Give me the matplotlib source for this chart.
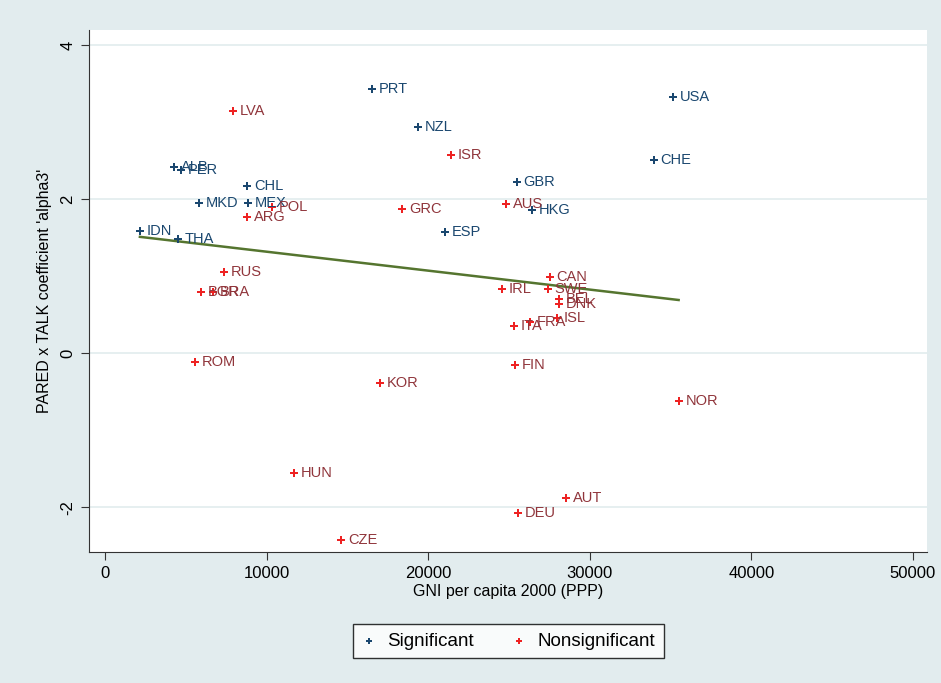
import numpy as np
import matplotlib.pyplot as plt

plt.rcParams['font.family'] = ['Liberation Sans', 'DejaVu Sans']

# significant countries
sig_names = ['PRT', 'USA', 'NZL', 'CHE', 'GBR', 'ALB', 'PER', 'CHL', 'MKD',
             'MEX', 'HKG', 'ESP', 'IDN', 'THA']
sig_gni = [16510, 35130, 19360, 33950, 25480, 4270, 4700, 8780, 5810,
           8840, 26400, 21030, 2160, 4510]
sig_alpha = [3.43, 3.32, 2.94, 2.51, 2.22, 2.42, 2.38, 2.17, 1.95,
             1.95, 1.86, 1.57, 1.58, 1.48]

# nonsignificant countries
non_names = ['LVA', 'ISR', 'POL', 'ARG', 'GRC', 'AUS', 'RUS', 'BGR', 'BRA',
             'CAN', 'IRL', 'SWE', 'BEL', 'DNK', 'ISL', 'FRA', 'ITA', 'ROM',
             'FIN', 'KOR', 'NOR', 'HUN', 'AUT', 'DEU', 'CZE']
non_gni = [7920, 21400, 10330, 8780, 18370, 24800, 7360, 5940, 6680,
           27520, 24550, 27400, 28080, 28080, 27950, 26280, 25290, 5570,
           25360, 17010, 35500, 11690, 28510, 25540, 14600]
non_alpha = [3.14, 2.57, 1.90, 1.77, 1.87, 1.94, 1.05, 0.79, 0.79,
             0.99, 0.83, 0.83, 0.70, 0.64, 0.45, 0.40, 0.35, -0.12,
             -0.16, -0.39, -0.62, -1.55, -1.88, -2.08, -2.42]

# fitted line end points
fit_x = [2160, 35500]
fit_y = [1.51, 0.69]

x_ticks = [0, 10000, 20000, 30000, 40000, 50000]
y_ticks = [-2, 0, 2, 4]

bg = '#e2ecee'
navy = '#1a476f'
red = '#ee2222'
maroon = '#90353b'
green = '#55752f'

fig = plt.figure(figsize=(9.41, 6.83), dpi=100, facecolor=bg)
ax = fig.add_axes([0.0946, 0.192, 0.891, 0.764])
ax.set_facecolor('white')

for y in y_ticks:
    ax.axhline(y, color=bg, linewidth=1.2, zorder=0)

ax.scatter(sig_gni, sig_alpha, marker='P', s=26, color=navy, linewidths=0,
           label='Significant', zorder=3)
ax.scatter(non_gni, non_alpha, marker='P', s=26, color=red, linewidths=0,
           label='Nonsignificant', zorder=3)

for n, x, y in zip(sig_names, sig_gni, sig_alpha):
    ax.annotate(n, (x, y), xytext=(5, 0), textcoords='offset points',
                va='center', ha='left', fontsize=10.5, color=navy)
for n, x, y in zip(non_names, non_gni, non_alpha):
    ax.annotate(n, (x, y), xytext=(5, 0), textcoords='offset points',
                va='center', ha='left', fontsize=10.5, color=maroon)

ax.plot(fit_x, fit_y, color=green, linewidth=1.8, zorder=2)

ax.set_xlim(-990, 50900)
ax.set_ylim(-2.58, 4.195)
ax.set_xticks(x_ticks)
ax.set_yticks(y_ticks)
ax.set_yticklabels([str(v) for v in y_ticks], rotation=90, va='center')
ax.tick_params(labelsize=12, length=6, color='#333333', pad=4)

for s in ['top', 'right']:
    ax.spines[s].set_visible(False)
for s in ['left', 'bottom']:
    ax.spines[s].set_color('#333333')

ax.set_xlabel('GNI per capita 2000 (PPP)', fontsize=11.5, labelpad=2)
ax.set_ylabel("PARED x TALK coefficient 'alpha3'", fontsize=11.5, labelpad=6)

leg = fig.legend(loc='center', bbox_to_anchor=(0.54, 0.0615), ncol=2,
                 fontsize=13.5, frameon=True, fancybox=False,
                 markerscale=0.8, handlelength=0.8, handletextpad=0.6,
                 columnspacing=2.0, borderpad=0.45, borderaxespad=0)
leg.get_frame().set_edgecolor('black')
leg.get_frame().set_facecolor('white')
leg.get_frame().set_linewidth(1.0)

fig.savefig('out.png', dpi=100, facecolor=bg)
